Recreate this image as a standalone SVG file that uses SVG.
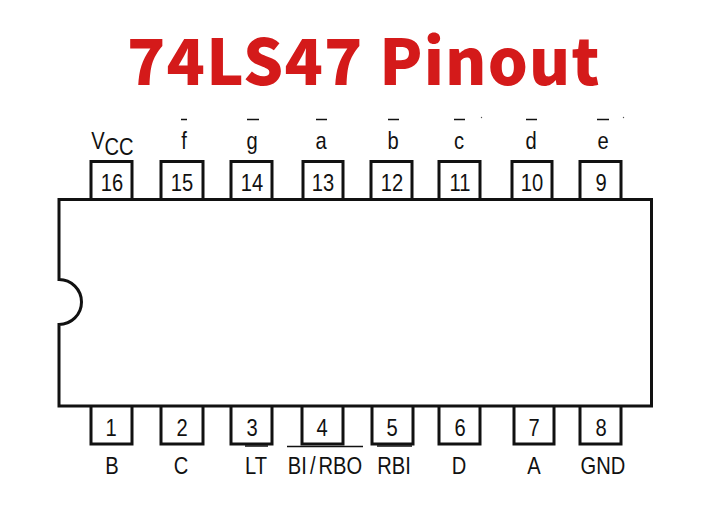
<svg xmlns="http://www.w3.org/2000/svg" width="720" height="523" viewBox="0 0 720 523">
<style>
.title{font-family:"Noto Sans CJK SC","Noto Sans",sans-serif;font-weight:900;font-size:63px;fill:#d41a1a;letter-spacing:1.2px}
.t{font-family:"Liberation Sans",Arial,sans-serif;font-size:24px;fill:#111;text-anchor:middle}
.pin{fill:#fff;stroke:#111;stroke-width:3}
.body{fill:#fff;stroke:#111;stroke-width:3}
.bar{stroke:#111;stroke-width:1.5;fill:none}
.speck{fill:#555}
</style>
<rect width="720" height="523" fill="#fff"/>
<text class="title" x="127" y="85">74LS47 Pinout</text>
<g id="pin16"><rect class="pin" x="91" y="161.500" width="41" height="40"/><text class="t" transform="translate(112 191) scale(.84 1)">16</text><text class="t" transform="translate(98 149) scale(.84 1)">V</text><text class="t" transform="translate(119 155) scale(.84 1)">CC</text></g>
<g id="pin15"><rect class="pin" x="161" y="161.500" width="42" height="40"/><text class="t" transform="translate(182 191) scale(.84 1)">15</text><text class="t" transform="translate(184 149) scale(.84 1)">f</text><path class="bar" d="M181 119.500H187"/></g>
<g id="pin14"><rect class="pin" x="231" y="161.500" width="41" height="40"/><text class="t" transform="translate(252 191) scale(.84 1)">14</text><text class="t" transform="translate(252 149) scale(.84 1)">g</text><path class="bar" d="M247 119.500H259"/></g>
<g id="pin13"><rect class="pin" x="303" y="161.500" width="40" height="40"/><text class="t" transform="translate(323 191) scale(.84 1)">13</text><text class="t" transform="translate(321 149) scale(.84 1)">a</text><path class="bar" d="M316 119.500H327"/></g>
<g id="pin12"><rect class="pin" x="371" y="161.500" width="41" height="40"/><text class="t" transform="translate(392 191) scale(.84 1)">12</text><text class="t" transform="translate(393 149) scale(.84 1)">b</text><path class="bar" d="M388 119.500H399"/></g>
<g id="pin11"><rect class="pin" x="439" y="161.500" width="41" height="40"/><text class="t" transform="translate(460 191) scale(.84 1)">11</text><text class="t" transform="translate(459 149) scale(.84 1)">c</text><path class="bar" d="M454 119.500H465"/></g>
<g id="pin10"><rect class="pin" x="512" y="161.500" width="40" height="40"/><text class="t" transform="translate(532 191) scale(.84 1)">10</text><text class="t" transform="translate(531 149) scale(.84 1)">d</text><path class="bar" d="M526 119.500H537"/></g>
<g id="pin9"><rect class="pin" x="580" y="161.500" width="41" height="40"/><text class="t" transform="translate(601 191) scale(.84 1)">9</text><text class="t" transform="translate(603 149) scale(.84 1)">e</text><path class="bar" d="M597 119.500H609"/></g>
<g id="pin1"><rect class="pin" x="91" y="404" width="41" height="40"/><text class="t" transform="translate(111 436) scale(.84 1)">1</text><text class="t" transform="translate(112 474) scale(.84 1)">B</text></g>
<g id="pin2"><rect class="pin" x="161" y="404" width="42" height="40"/><text class="t" transform="translate(182 436) scale(.84 1)">2</text><text class="t" transform="translate(181 474) scale(.84 1)">C</text></g>
<g id="pin3"><rect class="pin" x="231" y="404" width="41" height="40"/><text class="t" transform="translate(252 436) scale(.84 1)">3</text><text class="t" transform="translate(256 474) scale(.84 1)">LT</text><path class="bar" d="M245 446H268"/></g>
<g id="pin4"><rect class="pin" x="302" y="404" width="41" height="40"/><text class="t" transform="translate(322 436) scale(.84 1)">4</text><text class="t" word-spacing="-3" transform="translate(325 474) scale(.84 1)">BI / RBO</text><path class="bar" d="M287 446.500H363"/></g>
<g id="pin5"><rect class="pin" x="372" y="404" width="41" height="40"/><text class="t" transform="translate(392 436) scale(.84 1)">5</text><text class="t" transform="translate(394 474) scale(.84 1)">RBI</text><path class="bar" d="M377 446H412"/></g>
<g id="pin6"><rect class="pin" x="439" y="404" width="41" height="40"/><text class="t" transform="translate(460 436) scale(.84 1)">6</text><text class="t" transform="translate(459 474) scale(.84 1)">D</text></g>
<g id="pin7"><rect class="pin" x="514" y="404" width="40" height="40"/><text class="t" transform="translate(534 436) scale(.84 1)">7</text><text class="t" transform="translate(534 474) scale(.84 1)">A</text></g>
<g id="pin8"><rect class="pin" x="580" y="404" width="41" height="40"/><text class="t" transform="translate(601 436) scale(.84 1)">8</text><text class="t" transform="translate(603 474) scale(.84 1)">GND</text></g>
<g id="chip"><path class="body" d="M59 199.500H651.500V406H59V324.500A22.500 22.500 0 0 0 59 279.500Z"/></g>
<circle class="speck" cx="481.500" cy="117.500" r=".7"/><circle class="speck" cx="623.500" cy="117.500" r=".7"/>
<g id="connectors"/>
</svg>
